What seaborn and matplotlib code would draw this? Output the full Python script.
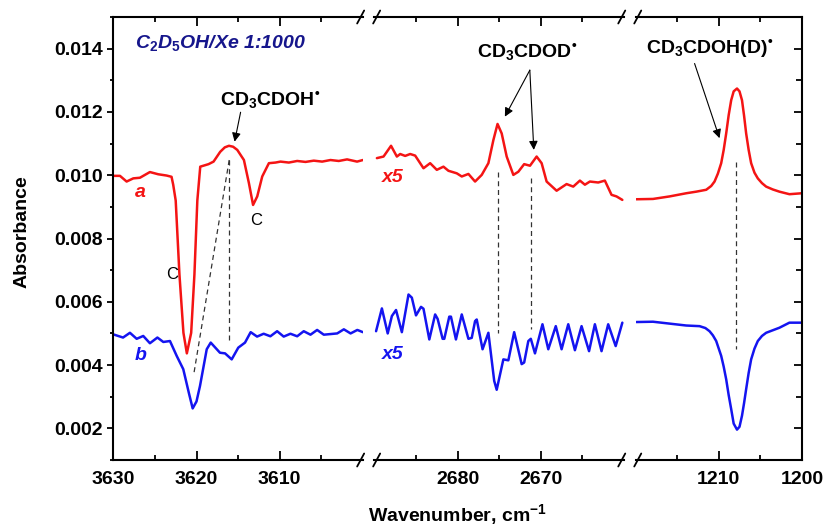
import matplotlib
matplotlib.use('Agg')
import matplotlib.pyplot as plt
import seaborn as sns
from matplotlib.ticker import MultipleLocator, FixedLocator, FormatStrFormatter
from matplotlib.lines import Line2D

# --- Data (absorbance vs wavenumber, cm-1) ---
# OH stretch region, trace a (red) and trace b (blue)
oh_red_wn = [3630.0, 3629.2, 3628.4, 3627.6, 3626.8, 3625.6, 3624.6, 3623.6, 3623.0, 3622.8,
             3622.5, 3622.05, 3621.57, 3621.16, 3620.64, 3620.25, 3619.9, 3619.55, 3618.55, 3617.95,
             3617.15, 3616.6, 3616.1, 3615.6, 3615.1, 3614.3, 3613.7, 3613.2, 3612.7, 3612.1, 3611.3,
             3610.5, 3609.9, 3608.9, 3607.9, 3606.9, 3605.9, 3604.9, 3603.9, 3602.9, 3601.9, 3600.7,
             3600.0]
oh_red_abs = [0.00998, 0.00998, 0.00980, 0.00990, 0.00992, 0.01010, 0.01003, 0.00999, 0.00995, 0.00970,
              0.00920, 0.00686, 0.00502, 0.00437, 0.00502, 0.00686, 0.00920, 0.01027, 0.01035, 0.01043,
              0.01074, 0.01088, 0.01093, 0.01090, 0.01080, 0.01048, 0.00975, 0.00906, 0.00933, 0.00996,
              0.01038, 0.01040, 0.01043, 0.01040, 0.01045, 0.01042, 0.01046, 0.01043, 0.01048, 0.01045,
              0.01050, 0.01043, 0.01048]

oh_blue_wn = [3630.0, 3628.83, 3628.0, 3627.19, 3626.4, 3625.6, 3624.7, 3623.99, 3623.19, 3622.38,
              3621.59, 3620.9, 3620.46, 3620.0, 3619.58, 3618.77, 3618.29, 3617.18, 3616.57, 3615.77,
              3614.98, 3614.17, 3613.49, 3612.72, 3611.93, 3611.12, 3610.31, 3609.52, 3608.71, 3607.9,
              3607.11, 3606.3, 3605.5, 3604.7, 3603.89, 3603.09, 3602.29, 3601.48, 3600.67, 3600.0]
oh_blue_abs = [0.00497, 0.00487, 0.00502, 0.00483, 0.00492, 0.00469, 0.00487, 0.00473, 0.00476, 0.00429,
               0.00387, 0.00310, 0.00263, 0.00285, 0.00334, 0.00450, 0.00471, 0.00439, 0.00437, 0.00418,
               0.00455, 0.00471, 0.00504, 0.00490, 0.00499, 0.00491, 0.00507, 0.00490, 0.00499, 0.00491,
               0.00507, 0.00496, 0.00511, 0.00496, 0.00498, 0.00500, 0.00513, 0.00500, 0.00511, 0.00504]

# OD stretch region (x5)
od_red_wn = [2689.7, 2688.9, 2688.0, 2687.3, 2686.9, 2686.3, 2685.7, 2685.1, 2684.1, 2683.3,
             2682.5, 2681.7, 2681.1, 2680.1, 2679.5, 2678.7, 2677.9, 2677.1, 2676.3, 2675.7,
             2675.2, 2674.7, 2674.1, 2673.3, 2672.7, 2672.0, 2671.3, 2670.5, 2669.9, 2669.3,
             2668.1, 2666.9, 2666.1, 2665.3, 2664.7, 2664.1, 2663.1, 2662.3, 2661.5, 2660.9, 2660.2]
od_red_abs = [0.01054, 0.01059, 0.01093, 0.01059, 0.01067, 0.01061, 0.01067, 0.01062, 0.01022, 0.01038,
              0.01017, 0.01027, 0.01014, 0.01006, 0.00996, 0.01004, 0.00980, 0.01001, 0.01038, 0.01111,
              0.01162, 0.01132, 0.01059, 0.01001, 0.01011, 0.01035, 0.01030, 0.01059, 0.01038, 0.00980,
              0.00951, 0.00972, 0.00964, 0.00983, 0.00970, 0.00980, 0.00977, 0.00983, 0.00938, 0.00933, 0.00922]

od_blue_wn = [2689.8, 2689.1, 2688.4, 2687.9, 2687.4, 2686.7, 2685.9, 2685.5, 2685.0, 2684.4,
              2684.1, 2683.4, 2682.7, 2682.4, 2681.8, 2681.6, 2681.0, 2680.8, 2680.2, 2679.5,
              2678.7, 2678.3, 2677.9, 2677.7, 2677.0, 2676.3, 2675.6, 2675.3, 2674.5, 2673.9,
              2673.2, 2672.3, 2672.0, 2671.5, 2671.2, 2670.7, 2669.8, 2669.1, 2668.2, 2667.5,
              2666.7, 2665.9, 2665.1, 2664.2, 2663.5, 2662.7, 2661.9, 2661.0, 2660.2]
od_blue_abs = [0.00507, 0.00579, 0.00500, 0.00555, 0.00574, 0.00504, 0.00623, 0.00613, 0.00557, 0.00584,
               0.00578, 0.00481, 0.00560, 0.00546, 0.00483, 0.00483, 0.00553, 0.00553, 0.00481, 0.00560,
               0.00483, 0.00486, 0.00539, 0.00544, 0.00450, 0.00502, 0.00350, 0.00322, 0.00418, 0.00415,
               0.00504, 0.00403, 0.00408, 0.00476, 0.00483, 0.00437, 0.00529, 0.00450, 0.00523, 0.00450,
               0.00529, 0.00447, 0.00523, 0.00444, 0.00529, 0.00444, 0.00529, 0.00460, 0.00534]

# CO / CCO region
cc_red_wn = [1219.9, 1217.9, 1215.9, 1213.9, 1212.7, 1211.5, 1210.9, 1210.5, 1210.1, 1209.7, 1209.4,
             1209.1, 1208.8, 1208.5, 1208.2, 1207.8, 1207.5, 1207.2, 1206.95, 1206.7, 1206.4, 1206.1,
             1205.7, 1205.3, 1204.8, 1204.3, 1203.5, 1202.7, 1201.5, 1200.0]
cc_red_abs = [0.00924, 0.00925, 0.00933, 0.00943, 0.00948, 0.00954, 0.00966, 0.00980, 0.01005, 0.01038, 0.01080,
              0.01132, 0.01190, 0.01237, 0.01265, 0.01274, 0.01265, 0.01237, 0.01188, 0.01132, 0.01080, 0.01038,
              0.01008, 0.00990, 0.00975, 0.00964, 0.00955, 0.00948, 0.00940, 0.00943]

cc_blue_wn = [1219.9, 1217.9, 1215.9, 1213.9, 1212.3, 1211.6, 1211.1, 1210.7, 1210.3, 1209.7, 1209.4,
              1209.1, 1208.8, 1208.5, 1208.2, 1207.8, 1207.5, 1207.2, 1206.95, 1206.7, 1206.4, 1206.1,
              1205.7, 1205.3, 1204.8, 1204.3, 1203.5, 1202.7, 1201.5, 1200.0]
cc_blue_abs = [0.00536, 0.00537, 0.00531, 0.00525, 0.00523, 0.00517, 0.00507, 0.00494, 0.00476, 0.00429, 0.00395,
               0.00355, 0.00305, 0.00261, 0.00215, 0.00196, 0.00205, 0.00240, 0.00280, 0.00324, 0.00375, 0.00418,
               0.00452, 0.00476, 0.00492, 0.00502, 0.00510, 0.00518, 0.00534, 0.00534]

RED = '#f41414'
BLUE = '#1414f0'
NAVY = '#16168c'

# --- Style ---
sns.set_style('ticks')
plt.rcParams['font.family'] = ['Liberation Sans', 'DejaVu Sans']
plt.rcParams['font.weight'] = 'bold'
plt.rcParams['mathtext.fontset'] = 'custom'
plt.rcParams['mathtext.rm'] = 'Liberation Sans:bold'
plt.rcParams['mathtext.bf'] = 'Liberation Sans:bold'
plt.rcParams['mathtext.sf'] = 'Liberation Sans:bold'
plt.rcParams['mathtext.it'] = 'Liberation Sans:bold:italic'
for key in ['axes.edgecolor', 'text.color', 'xtick.color', 'ytick.color', 'axes.labelcolor']:
    plt.rcParams[key] = 'black'

# --- Broken x axis: three panels with a common scale ---
W, H = 826, 528
ybot, ytop = 460, 17
px_per = 8.32
gap = 11.5
ranges = [(3630, 3600), (2690, 2660), (1220, 1200)]

fig = plt.figure(figsize=(W / 100, H / 100), dpi=100)
axes = []
edges = []
left = 113.3
for lo, hi in ranges:
    w = (lo - hi) * px_per
    ax = fig.add_axes([left / W, 1 - ybot / H, w / W, (ybot - ytop) / H])
    ax.set_facecolor('none')
    ax.set_xlim(lo, hi)
    ax.set_ylim(0.001, 0.015)
    axes.append(ax)
    edges.append((left, left + w))
    left += w + gap

ax1, ax2, ax3 = axes
traces = [(ax1, oh_red_wn, oh_red_abs, RED), (ax1, oh_blue_wn, oh_blue_abs, BLUE),
          (ax2, od_red_wn, od_red_abs, RED), (ax2, od_blue_wn, od_blue_abs, BLUE),
          (ax3, cc_red_wn, cc_red_abs, RED), (ax3, cc_blue_wn, cc_blue_abs, BLUE)]
for ax, xs, ys, c in traces:
    sns.lineplot(x=xs, y=ys, ax=ax, color=c, lw=1.8, sort=False, estimator=None)

major_x = [[3630, 3620, 3610], [2680, 2670], [1210, 1200]]
minor_x = [[3625, 3615, 3605], [2685, 2675, 2665], [1215, 1205]]
for ax, mj, mn in zip(axes, major_x, minor_x):
    ax.set_xlabel('')
    ax.set_ylabel('')
    ax.xaxis.set_major_locator(FixedLocator(mj))
    ax.xaxis.set_minor_locator(FixedLocator(mn))
    ax.yaxis.set_major_locator(MultipleLocator(0.002))
    ax.yaxis.set_minor_locator(MultipleLocator(0.001))
    ax.yaxis.set_major_formatter(FormatStrFormatter('%.3f'))
    ax.tick_params(axis='x', which='both', direction='in', top=True, bottom=True,
                   width=1.3, labelsize=14, pad=8)
    ax.tick_params(axis='x', which='major', length=6.5)
    ax.tick_params(axis='x', which='minor', length=3.5)
    for s in ax.spines.values():
        s.set_linewidth(1.5)

ax1.spines['right'].set_visible(False)
ax1.tick_params(axis='y', which='both', direction='out', left=True, right=False,
                width=1.3, labelsize=14, pad=3)
ax1.tick_params(axis='y', which='major', length=4.5)
ax1.tick_params(axis='y', which='minor', length=2.5)

ax2.spines['left'].set_visible(False)
ax2.spines['right'].set_visible(False)
ax2.tick_params(axis='y', which='both', left=False, right=False, labelleft=False)

ax3.spines['left'].set_visible(False)
ax3.tick_params(axis='y', which='both', direction='in', left=False, right=True,
                labelleft=False, labelright=False, width=1.3)
ax3.tick_params(axis='y', which='major', length=6)
ax3.tick_params(axis='y', which='minor', length=4)

# break marks "//" on top and bottom spines
for i in range(2):
    gc = (edges[i][1] + edges[i + 1][0]) / 2
    for cx in (gc - 8, gc + 8):
        for yp in (ybot, ytop):
            Y = H - yp
            fig.add_artist(Line2D([(cx - 3.5) / W, (cx + 3.5) / W], [(Y - 6.5) / H, (Y + 6.5) / H],
                                  transform=fig.transFigure, color='black', lw=1.3))

# --- Annotations ---
dash = dict(ls=(0, (4, 3)), color='#333333', lw=0.9)
arrow = dict(arrowstyle='-|>', color='black', lw=0.8, mutation_scale=13, shrinkA=0, shrinkB=0)
txt = dict(fontsize=14, fontweight='bold', ha='center', va='center')
dot = '$^{\u2022}$'

ax1.text(3627.4, 0.01417, r'C$_\mathit{2}$D$_\mathit{5}$OH/Xe 1:1000', color=NAVY,
         fontsize=14, fontweight='bold', style='italic', ha='left', va='center')
ax1.text(3626.8, 0.00945, 'a', color=RED, fontsize=14, fontweight='bold', style='italic', ha='center', va='center')
ax1.text(3626.7, 0.00431, 'b', color=BLUE, fontsize=14, fontweight='bold', style='italic', ha='center', va='center')
ax1.text(3622.96, 0.00686, 'C', fontsize=12, fontweight='normal', ha='center', va='center')
ax1.text(3612.8, 0.00857, 'C', fontsize=12, fontweight='normal', ha='center', va='center')
ax1.plot([3616.07, 3616.07], [0.01048, 0.00475], **dash)
ax1.plot([3616.07, 3620.36], [0.01048, 0.00366], **dash)
ax1.text(3611.1, 0.01237, 'CD$_3$CDOH' + dot, **txt)
ax1.annotate('', xy=(3615.42, 0.01106), xytext=(3614.7, 0.01199), arrowprops=arrow)

ax2.text(2687.77, 0.00992, 'x5', color=RED, fontsize=14, fontweight='bold', style='italic', ha='center', va='center')
ax2.text(2687.77, 0.00434, 'x5', color=BLUE, fontsize=14, fontweight='bold', style='italic', ha='center', va='center')
ax2.plot([2675.2, 2675.2], [0.01011, 0.00502], **dash)
ax2.plot([2671.2, 2671.2], [0.00990, 0.00513], **dash)
ax2.text(2671.68, 0.01388, 'CD$_3$CDOD' + dot, **txt)
ax2.annotate('', xy=(2674.32, 0.01185), xytext=(2671.32, 0.01332), arrowprops=arrow)
ax2.annotate('', xy=(2670.84, 0.01080), xytext=(2671.32, 0.01332), arrowprops=arrow)

ax3.plot([1207.9, 1207.9], [0.01043, 0.00450], **dash)
ax3.text(1211.1, 0.01401, 'CD$_3$CDOH(D)' + dot, **txt)
ax3.annotate('', xy=(1209.9, 0.01117), xytext=(1212.9, 0.01353), arrowprops=arrow)

fig.text(22.5 / W, 1 - 232 / H, 'Absorbance', rotation=90, fontsize=14, fontweight='bold',
         ha='center', va='center')
fig.text(457.5 / W, 1 - 515 / H, 'Wavenumber, cm$^{-1}$', fontsize=14, fontweight='bold',
         ha='center', va='center')

fig.savefig('out.png', dpi=100)
